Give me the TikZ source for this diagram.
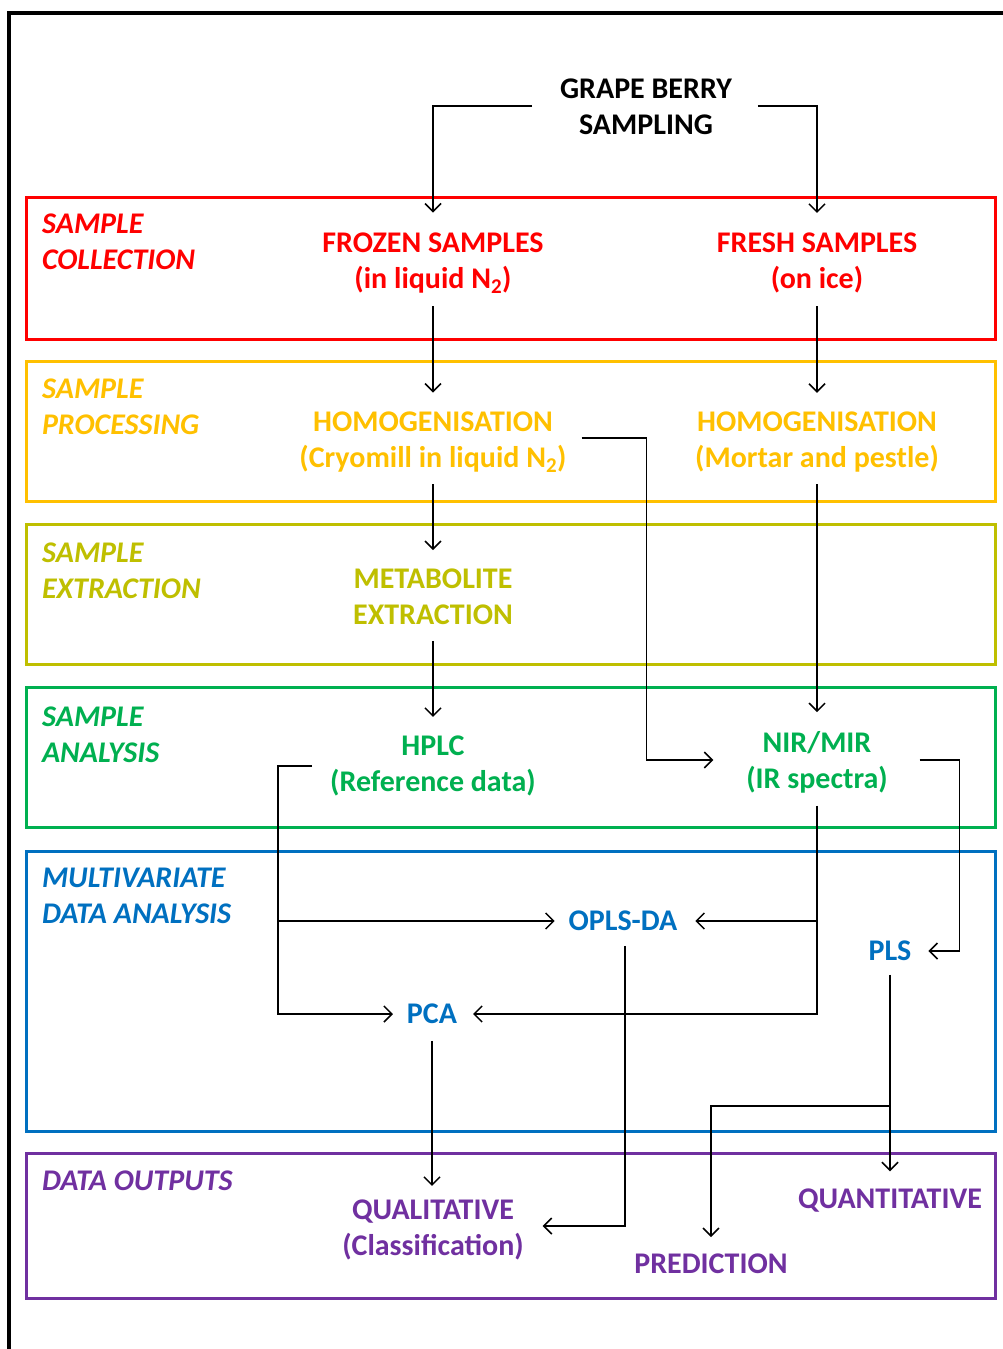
\documentclass[tikz,border=0pt]{standalone}
\usepackage{fontspec}
\setmainfont{Carlito}
\usetikzlibrary{arrows.meta}
\definecolor{cred}{HTML}{FF0000}
\definecolor{corange}{HTML}{FFC000}
\definecolor{colive}{HTML}{BFBF00}
\definecolor{cgreen}{HTML}{00B050}
\definecolor{cblue}{HTML}{0070C0}
\definecolor{cpurple}{HTML}{7030A0}
\tikzset{
  txt/.style={font=\bfseries\fontsize{30}{36}\selectfont, align=center, inner sep=0pt, outer sep=0pt},
  lab/.style={font=\bfseries\itshape\fontsize{30}{36}\selectfont, align=left, inner sep=0pt, outer sep=0pt, anchor=west},
  band/.style={line width=3pt},
  arr/.style={line width=1.5pt, -{Straight Barb[length=8pt,width=16pt,line width=1.5pt]}},
  ln/.style={line width=1.5pt}
}
\begin{document}
\begin{tikzpicture}[x=1pt,y=-1pt]
\useasboundingbox[fill=white] (0,0) rectangle (1003,1349);
\draw[line width=3.5pt] (9,1349) -- (9,13) -- (1003,13);
% bands
\draw[band,cred] (26,197) rectangle (995,339);
\draw[band,corange] (26,361) rectangle (995,501);
\draw[band,colive] (26,524) rectangle (995,664);
\draw[band,cgreen] (26,687) rectangle (995,827);
\draw[band,cblue] (26,851) rectangle (995,1131);
\draw[band,cpurple] (26,1153) rectangle (995,1298);
% left labels
\node[lab,cred] (l1) at (42,242) {SAMPLE\\COLLECTION};
\node[lab,corange] (l2) at (42,407) {SAMPLE\\PROCESSING};
\node[lab,colive] (l3) at (42,571) {SAMPLE\\EXTRACTION};
\node[lab,cgreen] (l4) at (42,735) {SAMPLE\\ANALYSIS};
\node[lab,cblue] (l5) at (42,896) {MULTIVARIATE\\DATA ANALYSIS};
\node[lab,cpurple] (l6) at (42,1181) {DATA OUTPUTS};
% nodes
\node[txt] (top) at (646,107) {GRAPE BERRY\\SAMPLING};
\node[txt,cred] (frozen) at (433,263) {FROZEN SAMPLES\\(in liquid N\textsubscript{2})};
\node[txt,cred] (fresh) at (817,263) {FRESH SAMPLES\\(on ice)};
\node[txt,corange] (hom1) at (433,442) {HOMOGENISATION\\(Cryomill in liquid N\textsubscript{2})};
\node[txt,corange] (hom2) at (817,442) {HOMOGENISATION\\(Mortar and pestle)};
\node[txt,colive] (metab) at (433,597) {METABOLITE\\EXTRACTION};
\node[txt,cgreen] (hplc) at (433,766) {HPLC\\(Reference data)};
\node[txt,cgreen] (nir) at (817,762) {NIR/MIR\\(IR spectra)};
\node[txt,cblue] (opls) at (623,921) {OPLS-DA};
\node[txt,cblue] (pca) at (432,1014) {PCA};
\node[txt,cblue] (pls) at (890,951) {PLS};
\node[txt,cpurple] (qual) at (433,1230) {QUALITATIVE\\(Classification)};
\node[txt,cpurple] (quant) at (890,1201) {QUANTITATIVE};
\node[txt,cpurple] (pred) at (711,1264) {PREDICTION};
% connectors
\draw[arr] ([xshift=-28pt,yshift=1pt]top.west) -| ([yshift=20pt]frozen.north);
\draw[arr] ([xshift=26pt,yshift=1pt]top.east) -| ([yshift=20pt]fresh.north);
\draw[arr] ([yshift=-13pt]frozen.south) -- ([yshift=19pt]hom1.north);
\draw[arr] ([yshift=-13pt]fresh.south) -- ([yshift=19pt]hom2.north);
\draw[arr] ([yshift=-12pt]hom1.south) -- ([yshift=19pt]metab.north);
\draw[arr] ([yshift=-12pt]hom2.south) -- ([yshift=19pt]nir.north);
\draw[arr] ([xshift=15pt,yshift=4pt]hom1.east) -- ++(65,0) |- ([xshift=-33pt,yshift=2pt]nir.west);
\draw[arr] ([yshift=-16pt]metab.south) -- ([yshift=19pt]hplc.north);
\draw[arr] ([xshift=-18pt]hplc.west) -- ++(-34,0) |- ([xshift=-14pt]pca.west);
\draw[arr] ([xshift=-18pt]hplc.west) ++(-34,0) |- ([xshift=-14pt]opls.west);
\draw[arr] ([yshift=-13pt]nir.south) |- ([xshift=16pt]pca.east);
\draw[arr] ([yshift=-13pt]nir.south) |- ([xshift=18pt]opls.east);
\draw[arr] ([xshift=32pt,yshift=2pt]nir.east) -- ++(40,0) |- ([xshift=17pt]pls.east);
\draw[arr] ([yshift=-14pt]pls.south) -- ([yshift=18pt]quant.north);
\draw[arr] ([yshift=-14pt]pls.south) -- ++(0,131) -| ([yshift=17pt]pred.north);
\draw[arr] ([xshift=2pt,yshift=-15pt]opls.south) |- ([xshift=19pt,yshift=4pt]qual.east);
\draw[arr] ([yshift=-17pt]pca.south) -- ([yshift=14pt]qual.north -| pca.south);
\end{tikzpicture}
\end{document}
